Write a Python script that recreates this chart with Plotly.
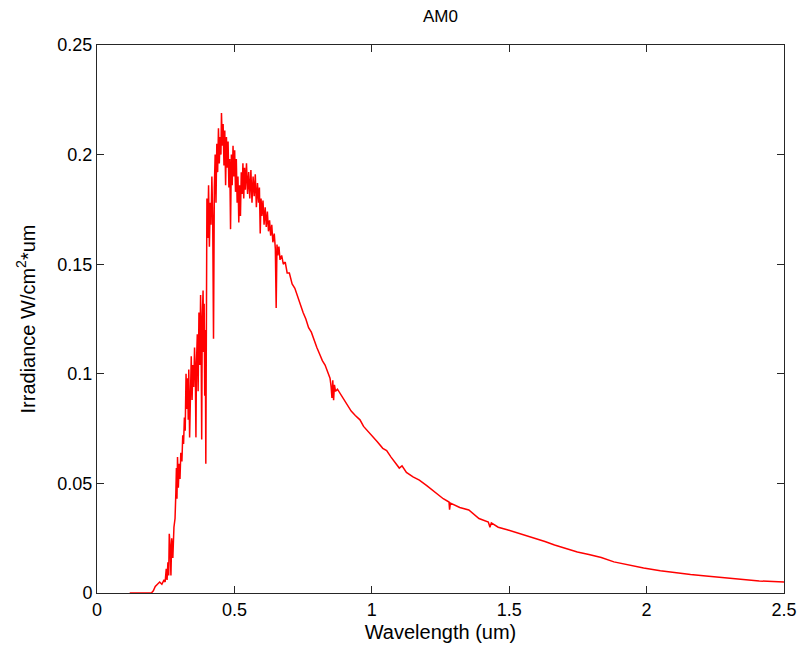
import plotly.graph_objects as go

# AM0 solar spectrum
wavelength = [
    0.119, 0.150, 0.198, 0.205, 0.212, 0.220, 0.228, 0.236, 0.244, 0.248,
    0.252, 0.255, 0.258, 0.261, 0.263, 0.266, 0.269, 0.272, 0.276, 0.280,
    0.284, 0.287, 0.289, 0.291, 0.293, 0.296, 0.299, 0.302, 0.305, 0.309,
    0.312, 0.315, 0.318, 0.321, 0.324, 0.327, 0.330, 0.332, 0.334, 0.337,
    0.340, 0.343, 0.346, 0.349, 0.352, 0.355, 0.358, 0.360, 0.362, 0.365,
    0.368, 0.371, 0.374, 0.377, 0.379, 0.381, 0.383, 0.386, 0.388, 0.390,
    0.392, 0.394, 0.396, 0.398, 0.400, 0.403, 0.406, 0.409, 0.412, 0.415,
    0.418, 0.421, 0.424, 0.427, 0.430, 0.433, 0.436, 0.439, 0.442, 0.445,
    0.448, 0.451, 0.453, 0.456, 0.459, 0.462, 0.465, 0.468, 0.471, 0.474,
    0.477, 0.480, 0.483, 0.486, 0.489, 0.492, 0.495, 0.498, 0.501, 0.504,
    0.507, 0.510, 0.513, 0.516, 0.519, 0.522, 0.525, 0.528, 0.531, 0.534,
    0.537, 0.540, 0.544, 0.548, 0.552, 0.556, 0.560, 0.564, 0.568, 0.572,
    0.576, 0.580, 0.584, 0.588, 0.591, 0.594, 0.597, 0.600, 0.604, 0.608,
    0.612, 0.616, 0.620, 0.624, 0.628, 0.632, 0.636, 0.640, 0.645, 0.649,
    0.652, 0.655, 0.658, 0.662, 0.666, 0.672, 0.678, 0.685, 0.692, 0.700,
    0.710, 0.720, 0.730, 0.740, 0.750, 0.760, 0.770, 0.780, 0.790, 0.800,
    0.810, 0.820, 0.830, 0.840, 0.848, 0.852, 0.855, 0.858, 0.861, 0.864,
    0.868, 0.875, 0.885, 0.895, 0.910, 0.925, 0.940, 0.957, 0.970, 0.985,
    1.000, 1.020, 1.040, 1.054, 1.070, 1.090, 1.100, 1.110, 1.126, 1.150,
    1.173, 1.200, 1.220, 1.234, 1.260, 1.281, 1.283, 1.286, 1.320, 1.353,
    1.390, 1.424, 1.430, 1.435, 1.460, 1.496, 1.540, 1.594, 1.630, 1.665,
    1.700, 1.748, 1.790, 1.835, 1.881, 1.930, 1.989, 2.050, 2.108, 2.160,
    2.216, 2.270, 2.324, 2.370, 2.410, 2.460, 2.500,
]
irradiance = [
    0.000, 0.000, 0.000, 0.001, 0.003, 0.004, 0.005, 0.004, 0.006, 0.005,
    0.011, 0.006, 0.014, 0.008, 0.027, 0.022, 0.008, 0.025, 0.016, 0.030,
    0.034, 0.046, 0.057, 0.043, 0.062, 0.048, 0.059, 0.052, 0.064, 0.060,
    0.072, 0.068, 0.080, 0.074, 0.100, 0.084, 0.098, 0.079, 0.102, 0.071,
    0.096, 0.108, 0.088, 0.104, 0.094, 0.112, 0.098, 0.071, 0.105, 0.118,
    0.092, 0.128, 0.104, 0.136, 0.112, 0.070, 0.125, 0.138, 0.110, 0.132,
    0.090, 0.120, 0.059, 0.125, 0.180, 0.162, 0.186, 0.158, 0.178, 0.168,
    0.190, 0.172, 0.116, 0.185, 0.200, 0.178, 0.205, 0.192, 0.212, 0.196,
    0.208, 0.200, 0.219, 0.204, 0.214, 0.195, 0.211, 0.186, 0.208, 0.194,
    0.206, 0.185, 0.198, 0.166, 0.200, 0.186, 0.204, 0.190, 0.202, 0.183,
    0.198, 0.178, 0.190, 0.169, 0.186, 0.172, 0.192, 0.182, 0.196, 0.180,
    0.194, 0.184, 0.196, 0.182, 0.192, 0.180, 0.193, 0.178, 0.190, 0.181,
    0.191, 0.176, 0.187, 0.178, 0.185, 0.164, 0.180, 0.172, 0.179, 0.168,
    0.176, 0.167, 0.174, 0.165, 0.170, 0.163, 0.168, 0.160, 0.164, 0.157,
    0.130, 0.159, 0.154, 0.158, 0.152, 0.154, 0.150, 0.151, 0.146, 0.146,
    0.141, 0.139, 0.135, 0.132, 0.128, 0.125, 0.121, 0.119, 0.115, 0.112,
    0.109, 0.106, 0.104, 0.101, 0.098, 0.094, 0.089, 0.097, 0.088, 0.095,
    0.092, 0.093, 0.091, 0.089, 0.086, 0.083, 0.081, 0.079, 0.076, 0.074,
    0.072, 0.069, 0.066, 0.065, 0.062, 0.059, 0.057, 0.058, 0.055, 0.053,
    0.0515, 0.049, 0.047, 0.046, 0.043, 0.0415, 0.038, 0.041, 0.039, 0.0379,
    0.034, 0.0324, 0.030, 0.032, 0.030, 0.0287, 0.027, 0.0251, 0.0235, 0.0219,
    0.0205, 0.0187, 0.0176, 0.0162, 0.0142, 0.0128, 0.0114, 0.0102, 0.0091, 0.0084,
    0.0078, 0.0071, 0.0064, 0.0059, 0.0055, 0.0052, 0.0050,
]

x_ticks = [0, 0.5, 1, 1.5, 2, 2.5]
x_tick_text = ["0", "0.5", "1", "1.5", "2", "2.5"]
y_ticks = [0, 0.05, 0.1, 0.15, 0.2, 0.25]
y_tick_text = ["0", "0.05", "0.1", "0.15", "0.2", "0.25"]

fig = go.Figure(go.Scatter(
    x=wavelength, y=irradiance, mode="lines",
    line=dict(color="#ff0000", width=1.5),
))

axis_style = dict(
    showline=True, linecolor="#262626", linewidth=1, mirror="ticks",
    ticks="inside", ticklen=7, tickcolor="#262626",
    showgrid=False, zeroline=False,
    tickfont=dict(size=18, color="#000000"),
)

fig.update_layout(
    width=809, height=652,
    margin=dict(l=97, r=17, t=45, b=59),
    paper_bgcolor="white", plot_bgcolor="white",
    font=dict(family="Liberation Sans, Arial", size=17, color="#000000"),
    showlegend=False,
    title=dict(text="AM0", xref="paper", x=0.5, xanchor="center",
               yref="container", y=0.976, yanchor="middle",
               font=dict(size=17)),
    xaxis=dict(range=[0, 2.5], tickvals=x_ticks, ticktext=x_tick_text,
               title=dict(text="Wavelength (um)", standoff=6), **axis_style),
    yaxis=dict(range=[0, 0.25], tickvals=y_ticks, ticktext=y_tick_text,
               title=dict(text="Irradiance W/cm<sup>2</sup>*um", standoff=16),
               **axis_style),
)

# drop the browser's default body margin so the figure fills the window
fig.write_html("out.html", config={"displayModeBar": False},
               post_script="document.body.style.margin='0';")
